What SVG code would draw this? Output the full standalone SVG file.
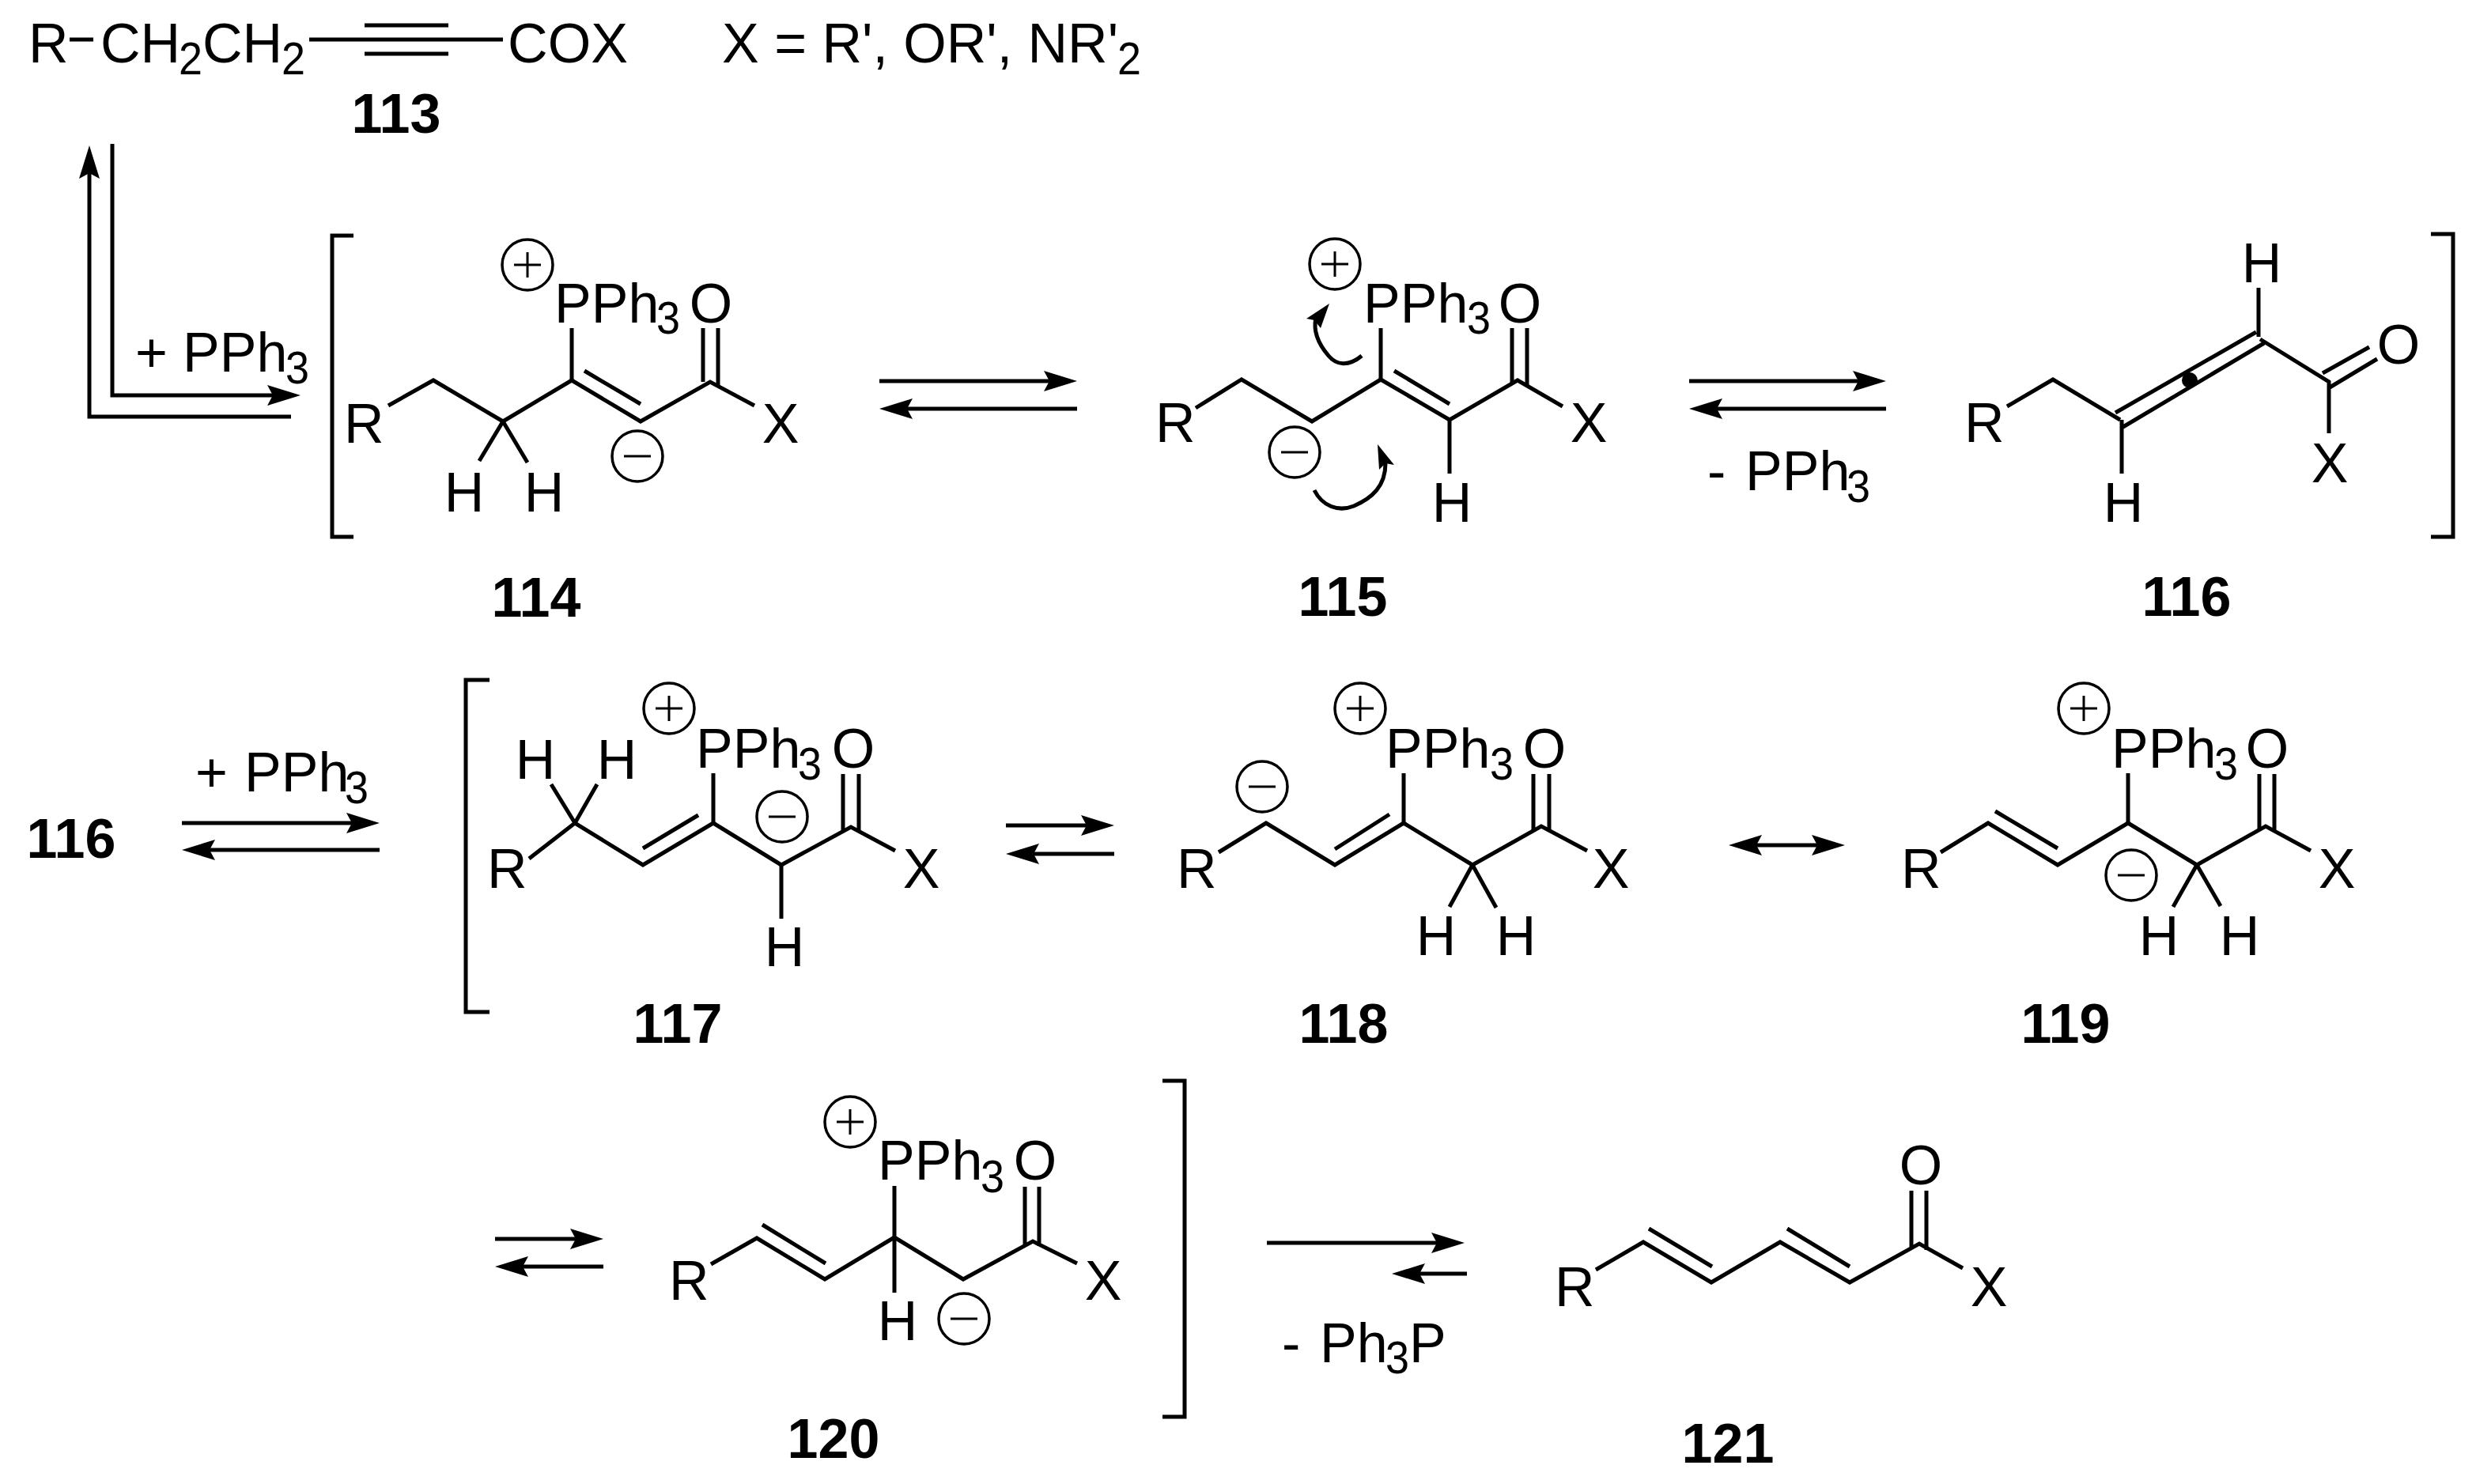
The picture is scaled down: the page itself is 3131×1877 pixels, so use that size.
<svg xmlns="http://www.w3.org/2000/svg" width="3131" height="1877" viewBox="0 0 3131 1877">
<style>
text{font-family:"Liberation Sans",Arial,sans-serif;font-size:70px;fill:#000}
.sub{font-size:58px}
.num{font-size:70px;font-weight:700;text-anchor:middle}
.m{text-anchor:middle}
.b,.a{fill:none;stroke:#000;stroke-width:5;stroke-linejoin:miter;stroke-linecap:butt}
.c{fill:#fff;stroke:#000;stroke-width:3.5}
.s{stroke:#000;stroke-width:3;fill:none}
.h{fill:#000;stroke:none}
</style>
<defs>
<marker id="ah" markerUnits="userSpaceOnUse" markerWidth="44" markerHeight="30" viewBox="0 -15 44 30" refX="30" refY="0" orient="auto-start-reverse"><path d="M42,0 L0,-13 L7,0 L0,13 Z"/></marker>
</defs>
<rect width="3131" height="1877" fill="#fff"/>
<g id="connectors">
<path class="a" marker-end="url(#ah)" d="M368,527H113V196"/>
<path class="a" marker-end="url(#ah)" d="M142,182V500H368"/>
<path class="a" marker-end="url(#ah)" d="M1112,482H1350"/>
<path class="a" marker-end="url(#ah)" d="M1362,517H1124"/>
<path class="a" marker-end="url(#ah)" d="M2136,482H2373"/>
<path class="a" marker-end="url(#ah)" d="M2385,517H2148"/>
<path class="a" marker-end="url(#ah)" d="M230,1041H468"/>
<path class="a" marker-end="url(#ah)" d="M480,1075H242"/>
<path class="a" marker-end="url(#ah)" d="M1272,1044H1397"/>
<path class="a" marker-end="url(#ah)" d="M1409,1080H1284"/>
<path class="a" marker-start="url(#ah)" marker-end="url(#ah)" d="M2198,1069H2321"/>
<path class="a" marker-end="url(#ah)" d="M626,1567H751"/>
<path class="a" marker-end="url(#ah)" d="M763,1602H638"/>
<path class="a" marker-end="url(#ah)" d="M1602,1572H1840"/>
<path class="a" marker-end="url(#ah)" d="M1855,1611H1772"/>
<path class="a" d="M1722,450C1705,464 1690,462 1680,450C1668,436 1660,420 1664,402"/>
<path class="h" d="M1681,384L1652,403L1662,405L1670,415Z"/>
<path class="a" d="M1662,620C1672,640 1692,648 1712,640C1735,630 1752,615 1752,586"/>
<path class="h" d="M1742,562L1763,588L1752,586L1744,594Z"/>
</g>
<g id="n113">
<text x="36" y="79">R</text><path class="b" d="M88,50H118"/>
<text x="127" y="79">CH</text><text class="sub" x="226" y="94" textLength="30" lengthAdjust="spacingAndGlyphs">2</text>
<text x="256" y="79">CH</text><text class="sub" x="356" y="94" textLength="30" lengthAdjust="spacingAndGlyphs">2</text>
<path class="b" d="M391,50H636M461,32H567M461,68H567"/>
<text x="642" y="79" textLength="152" lengthAdjust="spacingAndGlyphs">COX</text>
<text x="913" y="79">X = R', OR', NR'</text><text class="sub" x="1413" y="94" textLength="30" lengthAdjust="spacingAndGlyphs">2</text>
<text class="num" x="501" y="168">113</text>
</g>
<g id="plus-pph3-a">
<text x="171" y="470">+</text><text x="231" y="470">PPh</text><text class="sub" x="361" y="485" textLength="30" lengthAdjust="spacingAndGlyphs">3</text>
</g>
<g id="n114">
<path class="b" d="M447,298H420V679H447"/>
<path class="b" d="M491,513L548,481L636,533L723,481L810,533L898,483L954,513"/>
<path class="b" d="M739,469L810,511M723,481V415M889,483V415M908,488V415M636,533L606,583M636,533L667,585"/>
<text x="435" y="560">R</text><text class="m" x="987" y="560">X</text>
<text class="m" x="587" y="647">H</text><text class="m" x="688" y="647">H</text>
<text x="701" y="408">PPh</text><text class="sub" x="830" y="422" textLength="30" lengthAdjust="spacingAndGlyphs">3</text>
<text class="m" x="899" y="408">O</text>
<circle class="c" cx="667" cy="335" r="32"/><path class="s" d="M650,335H684M667,319V351"/>
<circle class="c" cx="806" cy="577" r="32"/><path class="s" d="M789,577H823"/>
<text class="num" x="678" y="780">114</text>
</g>
<g id="n115">
<path class="b" d="M1512,516L1570,480L1659,533L1746,480L1833,531L1919,481L1976,514"/>
<path class="b" d="M1763,469L1833,511M1746,480V415M1833,531V599M1912,485V415M1931,488V415"/>
<text x="1461" y="559">R</text><text class="m" x="2009" y="559">X</text>
<text class="m" x="1836" y="660">H</text>
<text x="1724" y="408">PPh</text><text class="sub" x="1855" y="422" textLength="30" lengthAdjust="spacingAndGlyphs">3</text>
<text class="m" x="1922" y="408">O</text>
<circle class="c" cx="1688" cy="334" r="32"/><path class="s" d="M1671,334H1705M1688,318V350"/>
<circle class="c" cx="1637" cy="572" r="32"/><path class="s" d="M1620,572H1654"/>
<text class="num" x="1698" y="779">115</text>
</g>
<g id="minus-pph3-a">
<text x="2159" y="620">-</text><text x="2207" y="620">PPh</text><text class="sub" x="2335" y="635" textLength="30" lengthAdjust="spacingAndGlyphs">3</text>
</g>
<g id="n116">
<path class="b" d="M3074,296H3102V679H3074"/>
<path class="b" d="M2538,514L2596,480L2681,531M2675,522L2853,420M2683,541L2863,434M2683,531V599M2856,364V426M2858,429L2945,483V548M2937,472L2996,439M2946,490L3006,454"/>
<circle class="h" cx="2769" cy="481" r="10"/>
<text x="2484" y="559">R</text><text class="m" x="2946" y="610">X</text>
<text class="m" x="2860" y="357">H</text><text class="m" x="2685" y="660">H</text>
<text class="m" x="3033" y="460">O</text>
<text class="num" x="2765" y="779">116</text>
</g>
<g id="n116b"><text class="num" x="90" y="1085">116</text></g>
<g id="plus-pph3-b">
<text x="247" y="1001">+</text><text x="309" y="1001">PPh</text><text class="sub" x="436" y="1016" textLength="30" lengthAdjust="spacingAndGlyphs">3</text>
</g>
<g id="n117">
<path class="b" d="M619,860H589V1280H619"/>
<path class="b" d="M669,1086L727,1041L813,1094L902,1041L988,1094L1076,1046L1132,1076"/>
<path class="b" d="M883,1031L813,1073M902,1041V978M727,1041L697,992M727,1041L755,992M988,1094V1162M1066,1050V979M1086,1052V979"/>
<text x="616" y="1123">R</text><text class="m" x="1165" y="1123">X</text>
<text class="m" x="677" y="985">H</text><text class="m" x="780" y="985">H</text><text class="m" x="992" y="1222">H</text>
<text x="880" y="971">PPh</text><text class="sub" x="1009" y="986" textLength="30" lengthAdjust="spacingAndGlyphs">3</text>
<text class="m" x="1079" y="971">O</text>
<circle class="c" cx="846" cy="896" r="32"/><path class="s" d="M829,896H863M846,880V912"/>
<circle class="c" cx="989" cy="1033" r="32"/><path class="s" d="M972,1033H1006"/>
<text class="num" x="857" y="1319">117</text>
</g>
<g id="n118">
<path class="b" d="M1541,1078L1601,1041L1688,1094L1775,1041L1862,1094L1949,1045L2007,1076"/>
<path class="b" d="M1757,1030L1688,1074M1775,1041V978M1862,1094L1833,1147M1862,1094L1892,1148M1939,1050V979M1959,1052V979"/>
<text x="1488" y="1123">R</text><text class="m" x="2037" y="1123">X</text>
<text class="m" x="1816" y="1208">H</text><text class="m" x="1917" y="1208">H</text>
<text x="1752" y="971">PPh</text><text class="sub" x="1884" y="986" textLength="30" lengthAdjust="spacingAndGlyphs">3</text>
<text class="m" x="1953" y="971">O</text>
<circle class="c" cx="1720" cy="896" r="32"/><path class="s" d="M1703,896H1737M1720,880V912"/>
<circle class="c" cx="1596" cy="995" r="32"/><path class="s" d="M1579,995H1613"/>
<text class="num" x="1699" y="1319">118</text>
</g>
<g id="n119">
<path class="b" d="M2454,1078L2514,1041L2602,1094L2691,1041L2778,1094L2865,1045L2922,1076"/>
<path class="b" d="M2523,1026L2602,1073M2691,1041V978M2778,1094L2748,1147M2778,1094L2808,1146M2857,1050V979M2876,1052V979"/>
<text x="2404" y="1123">R</text><text class="m" x="2955" y="1123">X</text>
<text class="m" x="2730" y="1208">H</text><text class="m" x="2832" y="1208">H</text>
<text x="2670" y="971">PPh</text><text class="sub" x="2800" y="986" textLength="30" lengthAdjust="spacingAndGlyphs">3</text>
<text class="m" x="2867" y="971">O</text>
<circle class="c" cx="2635" cy="896" r="32"/><path class="s" d="M2618,896H2652M2635,880V912"/>
<circle class="c" cx="2695" cy="1107" r="32"/><path class="s" d="M2678,1107H2712"/>
<text class="num" x="2612" y="1319">119</text>
</g>
<g id="n120">
<path class="b" d="M1470,1367H1498V1792H1470"/>
<path class="b" d="M899,1599L957,1566L1043,1618L1131,1565L1218,1618L1306,1570L1362,1598"/>
<path class="b" d="M964,1549L1044,1598M1131,1500V1635M1296,1574V1501M1314,1576V1501"/>
<text x="846" y="1644">R</text><text class="m" x="1395" y="1644">X</text>
<text class="m" x="1135" y="1695">H</text>
<text x="1110" y="1492">PPh</text><text class="sub" x="1240" y="1508" textLength="30" lengthAdjust="spacingAndGlyphs">3</text>
<text class="m" x="1309" y="1492">O</text>
<circle class="c" cx="1075" cy="1419" r="32"/><path class="s" d="M1058,1419H1092M1075,1403V1435"/>
<circle class="c" cx="1219" cy="1668" r="32"/><path class="s" d="M1202,1668H1236"/>
<text class="num" x="1054" y="1844">120</text>
</g>
<g id="minus-ph3p">
<text x="1621" y="1723">-</text><text x="1669" y="1723">Ph</text><text class="sub" x="1752" y="1737" textLength="30" lengthAdjust="spacingAndGlyphs">3</text><text x="1782" y="1723">P</text>
</g>
<g id="n121">
<path class="b" d="M2018,1606L2078,1571L2164,1622L2251,1571L2339,1622L2427,1573L2482,1604"/>
<path class="b" d="M2085,1554L2165,1602M2260,1554L2339,1602M2417,1578V1506M2436,1581V1506"/>
<text x="1966" y="1652">R</text><text class="m" x="2515" y="1652">X</text>
<text class="m" x="2429" y="1498">O</text>
<text class="num" x="2185" y="1850">121</text>
</g>
</svg>
